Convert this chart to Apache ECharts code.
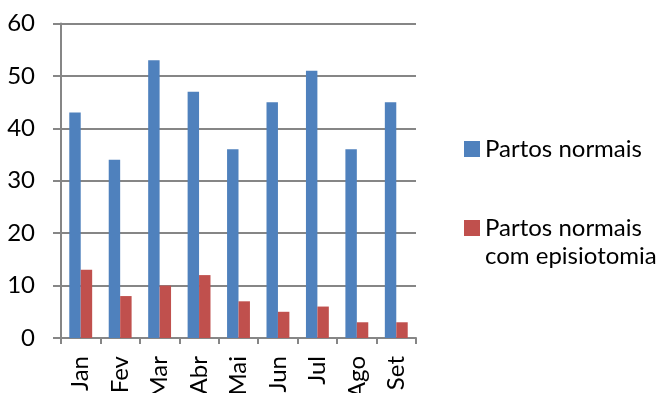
<!DOCTYPE html>
<html><head><meta charset="utf-8">
<script src="https://cdn.jsdelivr.net/npm/echarts@6/dist/echarts.min.js"></script>
<style>html,body{margin:0;padding:0;background:#fff;}#c{width:663px;height:393px;}</style>
</head><body><div id="c"></div>
<script>
const categories = ['Jan','Fev','Mar','Abr','Mai','Jun','Jul','Ago','Set'];
const partosNormais = [43,34,53,47,36,45,51,36,45];
const comEpisiotomia = [13,8,10,12,7,5,6,3,3];
const yTicks = [0,10,20,30,40,50,60];
const seriesNames = ['Partos normais','Partos normais com episiotomia'];

const FONT = 'Lato';
const FS = 24;
const chart = echarts.init(document.getElementById('c'), null, {renderer:'canvas'});
chart.setOption({
  animation:false,
  textStyle:{fontFamily:FONT},
  grid:{left:61,right:247,top:23.5,bottom:55,containLabel:false,outerBoundsMode:'none'},
  legend:[
    {data:[seriesNames[0]],orient:'vertical',left:459,top:130,itemWidth:16,itemHeight:16,icon:'rect',
     textStyle:{fontFamily:FONT,fontSize:FS,color:'#000',lineHeight:28}},
    {data:[seriesNames[1]],orient:'vertical',left:459,top:181,itemWidth:16,itemHeight:16,icon:'rect',
     formatter:n=>'\n'+n.replace(' com','\ncom'),
     textStyle:{fontFamily:FONT,fontSize:FS,color:'#000',lineHeight:28}}
  ],
  xAxis:{type:'category',data:categories,
    axisLine:{lineStyle:{color:'#868686',width:2}},
    axisTick:{show:true,length:6,lineStyle:{color:'#868686',width:2}},
    axisLabel:{rotate:90,fontSize:FS,color:'#000',margin:18,fontFamily:FONT}},
  yAxis:{type:'value',min:0,max:60,interval:10,
    axisLine:{show:true,lineStyle:{color:'#868686',width:2}},
    axisTick:{show:true,length:8,lineStyle:{color:'#868686',width:2}},
    splitLine:{lineStyle:{color:'#868686',width:2}},
    axisLabel:{fontSize:FS,color:'#000',margin:26,fontFamily:FONT,
      formatter:v=>yTicks.includes(v)?String(v):''}},
  series:[
    {name:seriesNames[0],type:'bar',data:partosNormais,barGap:'0%',barCategoryGap:'42%',itemStyle:{color:'#4F81BD'}},
    {name:seriesNames[1],type:'bar',data:comEpisiotomia,barGap:'0%',barCategoryGap:'42%',itemStyle:{color:'#C0504D'}}
  ]
});
</script></body></html>
